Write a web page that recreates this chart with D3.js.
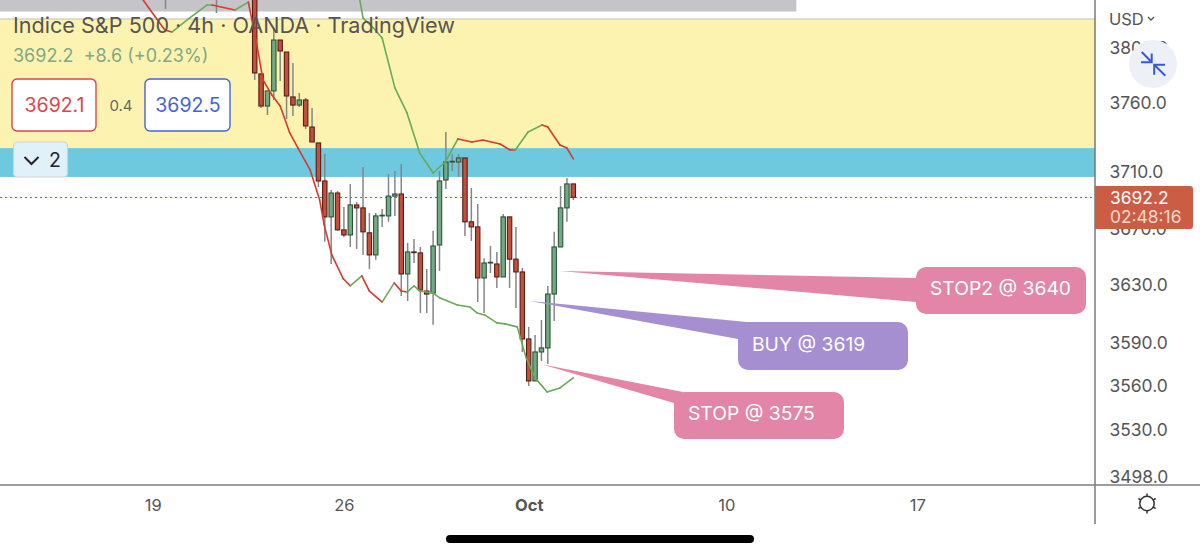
<!DOCTYPE html>
<html>
<head>
<meta charset="utf-8">
<script src="https://cdn.jsdelivr.net/npm/d3@7/dist/d3.min.js"></script>
<style>
html,body{margin:0;padding:0;background:#fff;overflow:hidden}
svg{display:block;font-family:Inter,"Open Sans",sans-serif}
</style>
</head>
<body>
<svg id="chart" width="1200" height="554"></svg>
<script>
// 4h candles: bar number, open, high, low, close
const bars   = d3.range(0, 51);
const opens  = [3850,3781.2,3757.8,3768.8,3806,3797.2,3764.4,3758.5,3762.2,3742.6,3731.1,3703.8,3678.2,3695.2,3669,3665.4,3686.7,3684.6,3666.9,3651.3,3678.9,3678.9,3693,3694.5,3637.9,3653.4,3652.7,3625.9,3624.5,3658.3,3704.5,3717.4,3717.4,3720.3,3674.7,3671.1,3635.1,3645.6,3644.9,3635.8,3678.2,3648.3,3639.3,3592.5,3563.5,3583.5,3586.3,3623.8,3656.9,3684.6,3701.7];
const highs  = [3860,3781.2,3768.8,3814.9,3806,3797.2,3789.2,3767.3,3763.7,3756.4,3731.1,3723.1,3697.4,3696.6,3685.3,3701.7,3688.8,3713.8,3681,3681,3683.9,3708.8,3711,3716,3659.8,3662.6,3656.9,3641.4,3668.3,3711,3739,3723.1,3723.1,3720.3,3698.8,3687.4,3649,3657.6,3653.4,3680.3,3678.2,3671.1,3642.1,3600.9,3595.3,3605.7,3629.5,3667.6,3700.2,3706,3701.7];
const lows   = [3776.8,3756.4,3751.3,3762.2,3776.1,3748.4,3750.6,3757.1,3741.2,3731.8,3699.5,3660.5,3644.9,3668.3,3664,3656.9,3655.5,3651.3,3641.4,3647.8,3671.1,3674.7,3678.9,3622.4,3618.9,3645.6,3610.6,3610.6,3602.3,3640,3698,3711,3706.7,3664.7,3661.2,3618.2,3610.6,3638.6,3628,3635.8,3628,3614,3583.5,3560,3563.5,3577.3,3575.2,3605,3656.9,3674.7,3690.2];
const closes = [3781.9,3757.8,3768.8,3806,3798,3765.1,3758.5,3762.2,3743.4,3731.8,3703.8,3678.2,3695.2,3669,3665.4,3686.7,3684.6,3667.6,3651.3,3678.9,3679.4,3693,3694.5,3637.9,3653.4,3652.9,3626.6,3623.8,3657.6,3703.8,3717.4,3717.9,3720.3,3674.7,3671.1,3635.1,3645.6,3646.1,3635.8,3678.2,3648.3,3639.3,3592.5,3563.5,3583.5,3586.3,3623.8,3656.9,3684.6,3701.7,3692.2];

// Earlier bars whose bodies sit above the visible range: only the lower wick shows
const earlyBars = [-14, -6];
const earlyLows = [3828.9, 3825.9];

// Lower channel line; tone belongs to the segment that ends at each point
const lowerBars   = [-17.5,-15.6,-14.1,-13,-10.2,-7.5,-6.7,-3.1,-1,0.4,1.3,2.7,4,5.5,6.8,8.7,10.2,10.9,12.1,13.9,15,16.8,18,20,21.9,23,23.9,25,25.9,28,29.1,31.8,33.8,34.9,36.1,38,39.3,41.2,42.6,44,45.9,47.9,50];
const lowerValues = [3835.5,3823,3813.4,3811.9,3822.3,3831.8,3831.8,3828.1,3834,3800.9,3776.8,3765.8,3757.8,3738.3,3727.4,3711.7,3690.2,3672.5,3651.3,3634.5,3629.5,3636.6,3625.9,3618.2,3631.6,3625.9,3625.2,3629.5,3625.9,3624.5,3621,3616.1,3614.7,3610.6,3609.2,3603.7,3603,3600.9,3579.4,3565.6,3555.9,3558.7,3565.6];
const lowerTones  = "-RRRGGGRGRRRRRRRRRRRRGRRGRRGGGGGGGGGGGGGGGG".slice(0, 43);

// Upper channel line
const upperBars   = [16.5,17,18.6,20,22,23.9,25.9,28,29.9,31.9,34.1,35.8,38.5,40.1,40.9,42.9,45.1,46,47.9,49,50];
const upperValues = [3835.5,3822.3,3815,3807.5,3771,3752.8,3723.9,3709.5,3717.4,3734,3731.8,3733.2,3730.3,3726,3726,3739,3744.1,3742.6,3729.6,3727.4,3719.6];
const upperTones  = "-GGGGGGGGGRRRRRGGRRRR";

// Horizontal zones, as price ranges
const greyZone   = [3827, 3840];
const yellowZone = [3727.4, 3821.5];
const blueZone   = [3706.7, 3727.4];
const greyZoneEndBar = 85;

// Price and time axis labels
const priceTicks = [3800, 3760, 3710, 3670, 3630, 3590, 3560, 3530, 3498];
const timeBars   = [-16, 14, 43, 74, 104];
const timeLabels = ["19", "26", "Oct", "10", "17"];
const lastPrice  = 3692.2;

// Order notes: wedge anchor bar and price, with the note text
const noteBars   = [47.9, 43.2, 45];
const notePrices = [3640, 3619, 3575];
const noteTexts  = ["STOP2 @ 3640", "BUY @ 3619", "STOP @ 3575"];

const W = 1200, paneR = 1095, paneB = 485;
const svg = d3.select("#chart");

const x = d3.scaleLinear().domain([0, 50]).range([254.7, 573.3]);
const y = d3.scaleLog().domain([3498, 3760]).range([477, 103]);

svg.append("defs").append("clipPath").attr("id", "pane")
  .append("rect").attr("width", paneR).attr("height", paneB);

const pane = svg.append("g").attr("clip-path", "url(#pane)");

// Zones
pane.append("rect").attr("x", 0).attr("width", x(greyZoneEndBar))
  .attr("y", y(greyZone[1])).attr("height", y(greyZone[0]) - y(greyZone[1])).attr("fill", "#c4c4c9");
pane.append("rect").attr("x", 0).attr("width", paneR)
  .attr("y", y(yellowZone[1])).attr("height", y(yellowZone[0]) - y(yellowZone[1])).attr("fill", "#fdf3b0");
pane.append("line").attr("x1", 0).attr("x2", paneR)
  .attr("y1", y(yellowZone[1])).attr("y2", y(yellowZone[1])).attr("stroke", "#c4c2b4").attr("stroke-width", 1);
pane.append("rect").attr("x", 0).attr("width", paneR)
  .attr("y", y(blueZone[1])).attr("height", y(blueZone[0]) - y(blueZone[1])).attr("fill", "#6ec9df");

// Last price guide, snapped to the pixel row so the dots stay crisp
const lastRow = Math.round(y(lastPrice)) + 0.5;
pane.append("line").attr("x1", 0).attr("x2", paneR)
  .attr("y1", lastRow).attr("y2", lastRow)
  .attr("stroke", "#d2443c").attr("stroke-width", 1).attr("stroke-dasharray", "2 3");

// Wicks
const wickColor = "#868686";
pane.append("g").selectAll("line").data(earlyBars).join("line")
  .attr("x1", d => x(d)).attr("x2", d => x(d))
  .attr("y1", -5).attr("y2", (d, i) => y(earlyLows[i]))
  .attr("stroke", wickColor).attr("stroke-width", 1.5);
pane.append("g").selectAll("line").data(bars).join("line")
  .attr("x1", d => x(d)).attr("x2", d => x(d))
  .attr("y1", d => y(highs[d])).attr("y2", d => y(lows[d]))
  .attr("stroke", wickColor).attr("stroke-width", 1.5);

// Candle bodies
const rising = i => closes[i] >= opens[i];
pane.append("g").selectAll("rect").data(bars).join("rect")
  .attr("x", d => x(d) - 2.2).attr("width", 4.4)
  .attr("y", d => y(Math.max(opens[d], closes[d])))
  .attr("height", d => Math.max(0.6, Math.abs(y(opens[d]) - y(closes[d]))))
  .attr("fill", d => rising(d) ? "#75a984" : "#c2503d")
  .attr("stroke", d => rising(d) ? "#2a5538" : "#561d15").attr("stroke-width", 1.1);

// Channel lines, one short path per segment so the tone can change
const toneColor = { R: "#d8392e", G: "#69aa58" };
const path = d3.line().x(p => x(p[0])).y(p => y(p[1]));
function channel(barsIn, values, tones) {
  const g = pane.append("g").attr("fill", "none").attr("stroke-width", 1.6).attr("stroke-linecap", "round");
  d3.pairs(d3.range(barsIn.length)).forEach(([a, b]) => {
    g.append("path")
      .attr("d", path([[barsIn[a], values[a]], [barsIn[b], values[b]]]))
      .attr("stroke", toneColor[tones[b]]);
  });
}
channel(lowerBars, lowerValues, lowerTones);
channel(upperBars, upperValues, upperTones);

// Order notes with their wedges
const noteBox = [
  { l: 916, t: 267, r: 1086, b: 314, fill: "#e285a6", base: [[916, 278], [916, 302]] },
  { l: 738, t: 322, r: 908,  b: 370, fill: "#a58fd1", base: [[752, 322.5], [738, 339]] },
  { l: 674, t: 392, r: 844,  b: 439, fill: "#e285a6", base: [[683, 392], [674, 403]] }
];
const notes = svg.append("g");
noteTexts.forEach((t, i) => {
  const b = noteBox[i];
  notes.append("polygon")
    .attr("points", [[x(noteBars[i]), y(notePrices[i])], ...b.base].join(" "))
    .attr("fill", b.fill);
  notes.append("rect").attr("x", b.l).attr("y", b.t).attr("width", b.r - b.l).attr("height", b.b - b.t)
    .attr("rx", 10).attr("fill", b.fill);
  notes.append("text").attr("x", b.l + 14).attr("y", (b.t + b.b) / 2 + 4.5)
    .attr("font-size", 19.3).attr("fill", "#fff").text(t);
});

// Pane frame and axes
svg.append("line").attr("x1", paneR).attr("x2", paneR).attr("y1", 0).attr("y2", 524)
  .attr("stroke", "#6f6f6f").attr("stroke-width", 1.4);
svg.append("line").attr("x1", 0).attr("x2", W).attr("y1", paneB).attr("y2", paneB)
  .attr("stroke", "#7d7d7d").attr("stroke-width", 1.4);

const priceAxis = d3.axisRight(y).tickValues(priceTicks).tickFormat(d3.format(".1f")).tickSize(0).tickPadding(14.5);
const pa = svg.append("g").attr("transform", `translate(${paneR},0)`).call(priceAxis);
pa.select(".domain").remove();
pa.selectAll("text").attr("font-family", "Inter,sans-serif").attr("font-size", 17.4).attr("fill", "#555");

const timeAxis = d3.axisBottom(x).tickValues(timeBars)
  .tickFormat(d => timeLabels[timeBars.indexOf(d)]).tickSize(0).tickPadding(14);
const ta = svg.append("g").attr("transform", `translate(0,${paneB})`).call(timeAxis);
ta.select(".domain").remove();
ta.selectAll("text").attr("font-family", "Inter,sans-serif").attr("font-size", 16.5).attr("fill", "#555")
  .attr("font-weight", d => timeLabels[timeBars.indexOf(d)] === "Oct" ? 700 : 400);

// Last price tag
svg.append("path").attr("d", "M1095 186H1190a3 3 0 0 1 3 3V226a3 3 0 0 1 -3 3H1095Z").attr("fill", "#cb5d45");
svg.append("text").attr("x", 1110).attr("y", 204).attr("font-size", 17.4).attr("fill", "#fff")
  .text(d3.format(".1f")(lastPrice));
svg.append("text").attr("x", 1110).attr("y", 223).attr("font-size", 17.4).attr("fill", "#f6d8cc").text("02:48:16");

// Currency label
svg.append("text").attr("x", 1109).attr("y", 25).attr("font-size", 16.5).attr("fill", "#555").text("USD");
svg.append("path").attr("d", "M1148 17l3 3 3-3").attr("fill", "none").attr("stroke", "#555").attr("stroke-width", 1.4);

// Collapse button
svg.append("circle").attr("cx", 1153).attr("cy", 64).attr("r", 24).attr("fill", "#eef0f8");
svg.append("path")
  .attr("d", "M1141.7 52L1151.5 62M1141 62.3H1151.7V53.5M1165.3 75.8L1155 65.5M1154.2 74.8V64.7H1165")
  .attr("fill", "none").attr("stroke", "#3558dc").attr("stroke-width", 2);

// Settings icon
const gear = svg.append("g").attr("transform", "translate(1147,503.5)")
  .attr("fill", "none").attr("stroke", "#333").attr("stroke-width", 1.5);
gear.append("circle").attr("r", 7.2);
d3.range(6).forEach(k => {
  const a = k * Math.PI / 3;
  gear.append("line").attr("x1", 7.2 * Math.sin(a)).attr("y1", -7.2 * Math.cos(a))
    .attr("x2", 10 * Math.sin(a)).attr("y2", -10 * Math.cos(a));
});

// Symbol header
svg.append("text").attr("x", 13).attr("y", 33).attr("font-size", 21.6).attr("fill", "#555")
  .text("Indice S&P 500 · 4h · OANDA · TradingView");
svg.append("text").attr("x", 13).attr("y", 62).attr("font-size", 18).attr("fill", "#7fa886")
  .style("white-space", "pre").text("3692.2  +8.6 (+0.23%)");

// Bid and ask boxes
const quote = (l, r, stroke, label) => {
  svg.append("rect").attr("x", l).attr("y", 79).attr("width", r - l).attr("height", 52).attr("rx", 5)
    .attr("fill", "#fff").attr("stroke", stroke).attr("stroke-width", 1.4);
  svg.append("text").attr("x", (l + r) / 2 + 0.5).attr("y", 111.5).attr("text-anchor", "middle")
    .attr("font-size", 19.5).attr("fill", stroke).text(label);
};
quote(12, 96, "#d9474c", "3692.1");
quote(145, 230, "#4464d2", "3692.5");
svg.append("text").attr("x", 121).attr("y", 111).attr("text-anchor", "middle")
  .attr("font-size", 15).attr("fill", "#666").text("0.4");

// Indicator toggle
svg.append("rect").attr("x", 13.5).attr("y", 142).attr("width", 54).attr("height", 35).attr("rx", 4)
  .attr("fill", "#e0f1f9").attr("stroke", "#cfd3d6").attr("stroke-width", 1.2);
svg.append("path").attr("d", "M24.5 157L31.5 164L38.5 157").attr("fill", "none").attr("stroke", "#222").attr("stroke-width", 2);
svg.append("text").attr("x", 49).attr("y", 167).attr("font-size", 19.5).attr("fill", "#222").text("2");

// Home indicator
svg.append("rect").attr("x", 446).attr("y", 535).attr("width", 308).attr("height", 8).attr("rx", 4).attr("fill", "#000");
</script>
</body>
</html>
